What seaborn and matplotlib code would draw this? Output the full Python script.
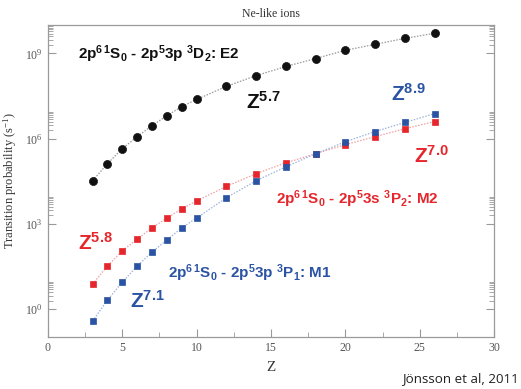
import numpy as np
import pandas as pd
import matplotlib
matplotlib.use("Agg")
import matplotlib.pyplot as plt
import seaborn as sns
from matplotlib.ticker import FixedLocator, NullFormatter, MultipleLocator

# ---------------------------------------------------------------
# data (log10 of transition probability)
# ---------------------------------------------------------------
Z_VALUES = [3, 4, 5, 6, 7, 8, 9, 10, 12, 14, 16, 18, 20, 22, 24, 26]

E2_LOG = [4.52, 5.12, 5.65, 6.07, 6.46, 6.81, 7.13, 7.38,
          7.84, 8.22, 8.54, 8.82, 9.11, 9.32, 9.53, 9.71]
M2_LOG = [0.88, 1.52, 2.05, 2.47, 2.86, 3.21, 3.53, 3.81,
          4.32, 4.77, 5.15, 5.47, 5.79, 6.07, 6.35, 6.60]
M1_LOG = [-0.42, 0.32, 0.95, 1.52, 2.01, 2.44, 2.86, 3.21,
          3.92, 4.52, 5.01, 5.47, 5.89, 6.25, 6.57, 6.88]

SERIES = ["E2", "M2", "M1"]
Y_MAJOR = [0, 3, 6, 9]

BLACK = "#111111"
RED = "#e5262c"
BLUE = "#2b53a3"

df = pd.DataFrame({
    "Z": Z_VALUES * 3,
    "A": np.power(10.0, np.array(E2_LOG + M2_LOG + M1_LOG)),
    "series": np.repeat(SERIES, len(Z_VALUES)),
})

# ---------------------------------------------------------------
# style
# ---------------------------------------------------------------
sns.set_theme(style="ticks")
plt.rcParams["font.family"] = ["Liberation Serif", "DejaVu Serif"]
plt.rcParams["mathtext.default"] = "regular"
plt.rcParams["axes.edgecolor"] = "#9a9a9a"
plt.rcParams["axes.linewidth"] = 0.9

fig = plt.figure(figsize=(5.21, 3.89), dpi=100)
ax = fig.add_axes([0.0921, 0.1344, 0.8561, 0.8013])

line_styles = {
    "E2": dict(color="#9a9a9a", marker="o", mfc=BLACK, mec=BLACK, ms=5.8),
    "M2": dict(color="#f2a0a3", marker="s", mfc=RED, mec=RED, ms=4.5),
    "M1": dict(color="#9db4dc", marker="s", mfc=BLUE, mec=BLUE, ms=4.5),
}
for name in SERIES:
    st = line_styles[name]
    sub = df[df["series"] == name]
    sns.lineplot(data=sub, x="Z", y="A", ax=ax, color=st["color"],
                 linestyle=(0, (1.2, 1.2)), linewidth=0.9,
                 marker=st["marker"], markersize=st["ms"],
                 markerfacecolor=st["mfc"], markeredgecolor=st["mec"],
                 markeredgewidth=0.5, legend=False)

ax.set_yscale("log")
ax.set_xlim(0, 30)
ax.set_ylim(10 ** -0.97, 10 ** 10)

# ticks: inward, mirrored on the right
ax.xaxis.set_major_locator(MultipleLocator(5))
ax.xaxis.set_minor_locator(MultipleLocator(2.5))
ax.yaxis.set_major_locator(FixedLocator([10.0 ** e for e in Y_MAJOR]))
minor = [m * 10.0 ** e for e in Y_MAJOR for m in range(2, 10)]
ax.yaxis.set_minor_locator(FixedLocator(minor))
ax.yaxis.set_minor_formatter(NullFormatter())
ax.set_yticklabels([f"$10^{{{e}}}$" for e in Y_MAJOR])
ax.tick_params(axis="both", which="both", direction="in", color="#9a9a9a",
               labelcolor="#555555", labelsize=8.5, right=True)
ax.tick_params(axis="both", which="major", length=6, width=0.8)
ax.tick_params(axis="both", which="minor", length=3.5, width=0.6)
ax.tick_params(axis="x", which="both", top=False)
ax.tick_params(axis="y", which="major", pad=4)

ax.set_xlabel("Z", fontsize=11, color="#333333", labelpad=5)
ax.set_ylabel("Transition probability (s$^{-1}$)", fontsize=9,
              color="#333333", labelpad=4)
ax.set_title("Ne-like ions", fontsize=8.5, color="#333333", pad=6)

# annotations
sans = ["Liberation Sans", "DejaVu Sans"]
kw = dict(transform=ax.transAxes, family=sans, fontweight="bold")
ax.text(0.068, 0.905, "2p$^{6\\,1}$S$_0$ - 2p$^5$3p $^3$D$_2$: E2",
        color=BLACK, fontsize=11, va="center", **kw)
ax.text(0.443, 0.755, "Z$^{5.7}$", color=BLACK, fontsize=15, va="center", **kw)
ax.text(0.770, 0.780, "Z$^{8.9}$", color=BLUE, fontsize=15, va="center", **kw)
ax.text(0.820, 0.580, "Z$^{7.0}$", color=RED, fontsize=15, va="center", **kw)
ax.text(0.512, 0.440, "2p$^{6\\,1}$S$_0$ - 2p$^5$3s $^3$P$_2$: M2",
        color=RED, fontsize=11, va="center", **kw)
ax.text(0.068, 0.300, "Z$^{5.8}$", color=RED, fontsize=15, va="center", **kw)
ax.text(0.268, 0.205, "2p$^{6\\,1}$S$_0$ - 2p$^5$3p $^3$P$_1$: M1",
        color=BLUE, fontsize=11, va="center", **kw)
ax.text(0.185, 0.115, "Z$^{7.1}$", color=BLUE, fontsize=15, va="center", **kw)

fig.text(0.995, 0.027, "Jönsson et al, 2011", ha="right", va="center",
         family=["Open Sans", "DejaVu Sans"], fontsize=9.6, color="#222222")

fig.savefig("out.png", dpi=100)
